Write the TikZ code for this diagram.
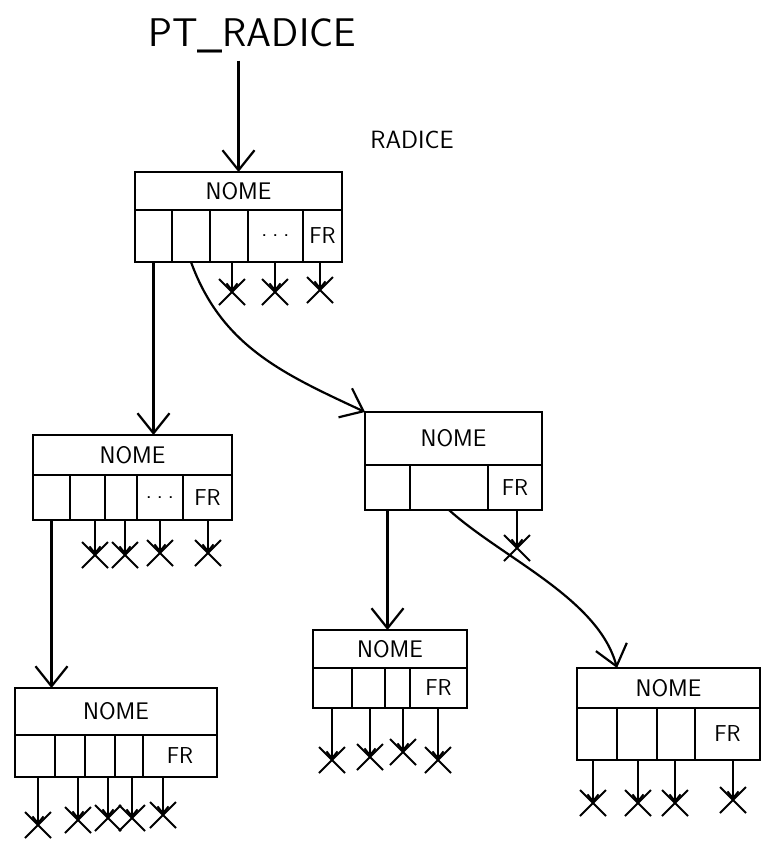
\documentclass[tikz,border=0pt]{standalone}
\usepackage{tikz}
\usetikzlibrary{arrows.meta, shapes.misc}
\newcommand{\namefont}{\sffamily\fontsize{24}{28}\selectfont}
\newcommand{\cellfont}{\sffamily\fontsize{23}{27}\selectfont}
\newcommand{\ptfont}{\sffamily\fontsize{40}{46}\selectfont}
\newcommand{\labfont}{\sffamily\fontsize{25}{30}\selectfont}
\newcommand{\puntini}{.\hspace{5pt}.\hspace{5pt}.}
\tikzset{
  recbox/.style={draw, line width=2pt, anchor=north west, inner sep=0pt, outer sep=0pt},
  namebox/.style={recbox, font=\namefont},
  cellbox/.style={recbox, font=\cellfont},
  nil/.style={cross out, draw, line width=2pt, minimum size=24pt, inner sep=0pt},
  ptr/.style={-{Straight Barb[length=20pt,width=32pt]}, line width=2.2pt},
  nilptr/.style={-{Straight Barb[length=7pt,width=11pt]}, line width=2pt},
}
\begin{document}
\begin{tikzpicture}[x=1pt, y=-1pt]
  \useasboundingbox (0,0) rectangle (772,854);

  \node[font=\ptfont] (pt) at (252,36) {PT\_RADICE};
  \node[font=\labfont] (lab) at (412,140) {RADICE};

  % radice
  \node[namebox, minimum width=207, minimum height=38] (rt) at (135,172) {NOME};
  \node[cellbox, minimum width=37, minimum height=52] (rt1) at (135,210) {};
  \node[cellbox, minimum width=38, minimum height=52] (rt2) at (172,210) {};
  \node[cellbox, minimum width=38, minimum height=52] (rt3) at (210,210) {};
  \node[cellbox, minimum width=55, minimum height=52] (rt4) at (248,210) {\puntini};
  \node[cellbox, minimum width=39, minimum height=52] (rt5) at (303,210) {FR};
  \node[nil] (rtx3) at (232,292) {};
  \node[nil] (rtx4) at (275,292) {};
  \node[nil] (rtx5) at (320,290) {};

  % figlio sinistro
  \node[namebox, minimum width=199, minimum height=40] (la) at (33,435) {NOME};
  \node[cellbox, minimum width=37, minimum height=45] (la1) at (33,475) {};
  \node[cellbox, minimum width=35, minimum height=45] (la2) at (70,475) {};
  \node[cellbox, minimum width=32, minimum height=45] (la3) at (105,475) {};
  \node[cellbox, minimum width=46, minimum height=45] (la4) at (137,475) {\puntini};
  \node[cellbox, minimum width=49, minimum height=45] (la5) at (183,475) {FR};
  \node[nil] (lax2) at (95,555) {};
  \node[nil] (lax3) at (125,555) {};
  \node[nil] (lax4) at (160,553) {};
  \node[nil] (lax5) at (208,553) {};

  \node[namebox, minimum width=202, minimum height=47] (lb) at (15,688) {NOME};
  \node[cellbox, minimum width=40, minimum height=42] (lb1) at (15,735) {};
  \node[cellbox, minimum width=30, minimum height=42] (lb2) at (55,735) {};
  \node[cellbox, minimum width=30, minimum height=42] (lb3) at (85,735) {};
  \node[cellbox, minimum width=28, minimum height=42] (lb4) at (115,735) {};
  \node[cellbox, minimum width=74, minimum height=42] (lb5) at (143,735) {FR};
  \node[nil] (lbx1) at (38,825) {};
  \node[nil] (lbx2) at (78,820) {};
  \node[nil] (lbx3) at (108,818) {};
  \node[nil] (lbx4) at (132,818) {};
  \node[nil] (lbx5) at (163,815) {};

  % figlio destro
  \node[namebox, minimum width=177, minimum height=53] (ra) at (365,412) {NOME};
  \node[cellbox, minimum width=45, minimum height=45] (ra1) at (365,465) {};
  \node[cellbox, minimum width=78, minimum height=45] (ra2) at (410,465) {};
  \node[cellbox, minimum width=54, minimum height=45] (ra3) at (488,465) {FR};
  \node[nil] (rax3) at (517,548) {};

  \node[namebox, minimum width=154, minimum height=38] (rb) at (313,630) {NOME};
  \node[cellbox, minimum width=39, minimum height=40] (rb1) at (313,668) {};
  \node[cellbox, minimum width=33, minimum height=40] (rb2) at (352,668) {};
  \node[cellbox, minimum width=25, minimum height=40] (rb3) at (385,668) {};
  \node[cellbox, minimum width=57, minimum height=40] (rb4) at (410,668) {FR};
  \node[nil] (rbx1) at (332,760) {};
  \node[nil] (rbx2) at (370,757) {};
  \node[nil] (rbx3) at (403,752) {};
  \node[nil] (rbx4) at (438,760) {};

  \node[namebox, minimum width=183, minimum height=40] (rc) at (577,668) {NOME};
  \node[cellbox, minimum width=40, minimum height=52] (rc1) at (577,708) {};
  \node[cellbox, minimum width=40, minimum height=52] (rc2) at (617,708) {};
  \node[cellbox, minimum width=38, minimum height=52] (rc3) at (657,708) {};
  \node[cellbox, minimum width=65, minimum height=52] (rc4) at (695,708) {FR};
  \node[nil] (rcx1) at (593,803) {};
  \node[nil] (rcx2) at (638,803) {};
  \node[nil] (rcx3) at (675,803) {};
  \node[nil] (rcx4) at (733,800) {};

  % puntatori
  \draw[ptr, shorten <=4pt] (rt.north |- pt.south) -- (rt.north);
  \draw[ptr] (rt1.south) -- (rt1.south |- la.north);
  \draw[ptr] (rt2.south) to[out=-70, in=155] (ra.north west);
  \draw[ptr] (la1.south) -- (la1.south |- lb.north);
  \draw[ptr] (ra1.south) -- (ra1.south |- rb.north);
  \draw[ptr] (ra2.south) to[out=-42, in=105, looseness=0.8] (rc1.east |- rc.north);

  % puntatori nulli
  \draw[nilptr] (rtx3 |- rt3.south) -- (rtx3.center);
  \draw[nilptr] (rtx4 |- rt4.south) -- (rtx4.center);
  \draw[nilptr] (rtx5 |- rt5.south) -- (rtx5.center);
  \draw[nilptr] (lax2 |- la2.south) -- (lax2.center);
  \draw[nilptr] (lax3 |- la3.south) -- (lax3.center);
  \draw[nilptr] (lax4 |- la4.south) -- (lax4.center);
  \draw[nilptr] (lax5 |- la5.south) -- (lax5.center);
  \draw[nilptr] (lbx1 |- lb1.south) -- (lbx1.center);
  \draw[nilptr] (lbx2 |- lb2.south) -- (lbx2.center);
  \draw[nilptr] (lbx3 |- lb3.south) -- (lbx3.center);
  \draw[nilptr] (lbx4 |- lb4.south) -- (lbx4.center);
  \draw[nilptr] (lbx5 |- lb5.south) -- (lbx5.center);
  \draw[nilptr] (rax3 |- ra3.south) -- (rax3.center);
  \draw[nilptr] (rbx1 |- rb1.south) -- (rbx1.center);
  \draw[nilptr] (rbx2 |- rb2.south) -- (rbx2.center);
  \draw[nilptr] (rbx3 |- rb3.south) -- (rbx3.center);
  \draw[nilptr] (rbx4 |- rb4.south) -- (rbx4.center);
  \draw[nilptr] (rcx1 |- rc1.south) -- (rcx1.center);
  \draw[nilptr] (rcx2 |- rc2.south) -- (rcx2.center);
  \draw[nilptr] (rcx3 |- rc3.south) -- (rcx3.center);
  \draw[nilptr] (rcx4 |- rc4.south) -- (rcx4.center);
\end{tikzpicture}
\end{document}
